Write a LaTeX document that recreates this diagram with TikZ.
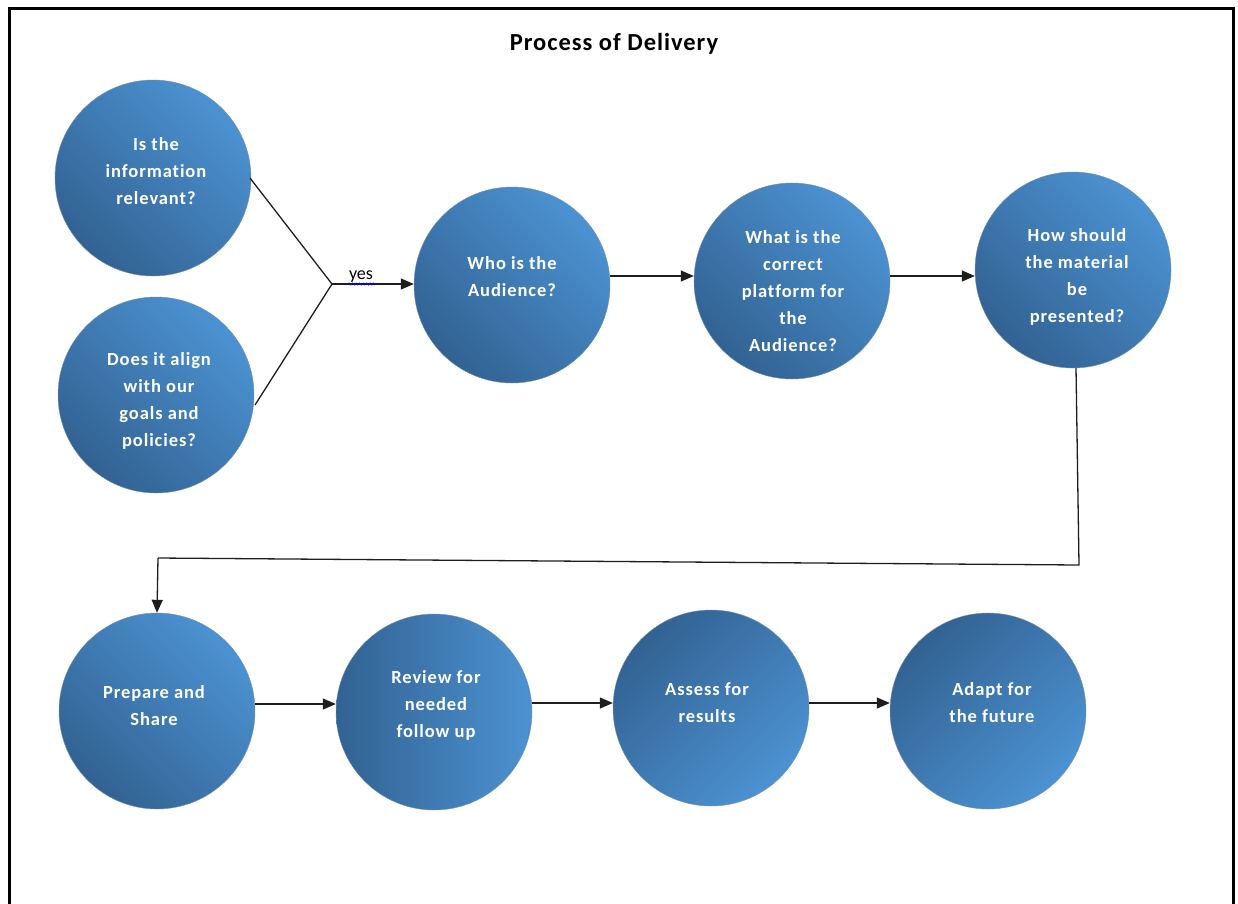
\documentclass[tikz,border=0pt]{standalone}
\usepackage{fontspec}
\setmainfont[Ligatures=NoCommon]{Carlito}
\usetikzlibrary{arrows.meta,decorations.pathmorphing}
\definecolor{blight}{RGB}{76,146,210}
\definecolor{bdark}{RGB}{50,98,146}
\definecolor{lnc}{RGB}{30,30,30}
\tikzset{
  circ/.style={circle, minimum size=196pt, inner sep=0pt, draw=bdark!70, line width=0.4pt,
    top color=blight, bottom color=bdark},
  ctext/.style={text=white, align=center, font=\fontsize{18.5}{27}\selectfont\bfseries\addfontfeature{LetterSpace=5}},
  conn/.style={draw=lnc, line width=1.3pt},
  arr/.style={conn, -{Triangle[length=13pt,width=11pt]}}
}
\begin{document}
\begin{tikzpicture}[x=1pt,y=-1pt]
\useasboundingbox (0,0) rectangle (1238,903);
\draw[line width=3pt] (9.5,915) -- (9.5,8.5) -- (1233,8.5) -- (1233,915);
\node[font=\fontsize{24.5}{28}\selectfont\bfseries\addfontfeature{LetterSpace=4}] (title) at (614,44) {Process of Delivery};
% circles
\node[circ, shading angle=-45] (c1) at (153,178) {};
\node[circ, shading angle=-45] (c2) at (156,395) {};
\node[circ, shading angle=-45] (c3) at (512,285) {};
\node[circ, shading angle=-45] (c4) at (792,281) {};
\node[circ, shading angle=-45] (c5) at (1073,270) {};
\node[circ, shading angle=-45] (c6) at (157,711) {};
\node[circ, shading angle=-90] (c7) at (434,712) {};
\node[circ, shading angle=-135] (c8) at (711,708) {};
\node[circ, shading angle=-135] (c9) at (988,711) {};
% texts
\node[ctext] (t1) at (156,171) {Is the\\information\\relevant?};
\node[ctext] (t2) at (159,401) {Does it align\\with our\\goals and\\policies?};
\node[ctext] (t3) at (512,277) {Who is the\\Audience?};
\node[ctext] (t4) at (793,291) {What is the\\correct\\platform for\\the\\Audience?};
\node[ctext] (t5) at (1077,277) {How should\\the material\\be\\presented?};
\node[ctext] (t6) at (154,706) {Prepare and\\Share};
\node[ctext] (t7) at (436,705) {Review for\\needed\\follow up};
\node[ctext] (t8) at (707,703) {Assess for\\results};
\node[ctext] (t9) at (992,703) {Adapt for\\the future};
% junction
\coordinate (j) at (332,284);
\draw[conn] (250,178) -- (j);
\draw[conn] (255,405) -- (j);
\draw[arr] (j) -- (c3.west |- j);
\node[font=\fontsize{18}{20}\selectfont, anchor=base] (yes) at (361,279) {yes};
\draw[blue, line width=0.8pt, decorate, decoration={snake, amplitude=1pt, segment length=3.5pt}] (348,284) -- (375,284);
\draw[arr] (c3.east |- 0,276) -- (c4.west |- 0,276);
\draw[arr] (c4.east |- 0,276) -- (c5.west |- 0,276);
\coordinate (k0) at (1076,368);
\coordinate (k1) at (1079,565);
\coordinate (k2) at (158,558);
\draw[conn] (k0) -- (k1) -- (k2);
\draw[arr] (k2) -- (c6.north);
\draw[arr] (c6.east |- 0,704) -- (c7.west |- 0,704);
\draw[arr] (c7.east |- 0,703) -- (c8.west |- 0,703);
\draw[arr] (c8.east |- 0,703) -- (c9.west |- 0,703);
\end{tikzpicture}
\end{document}
